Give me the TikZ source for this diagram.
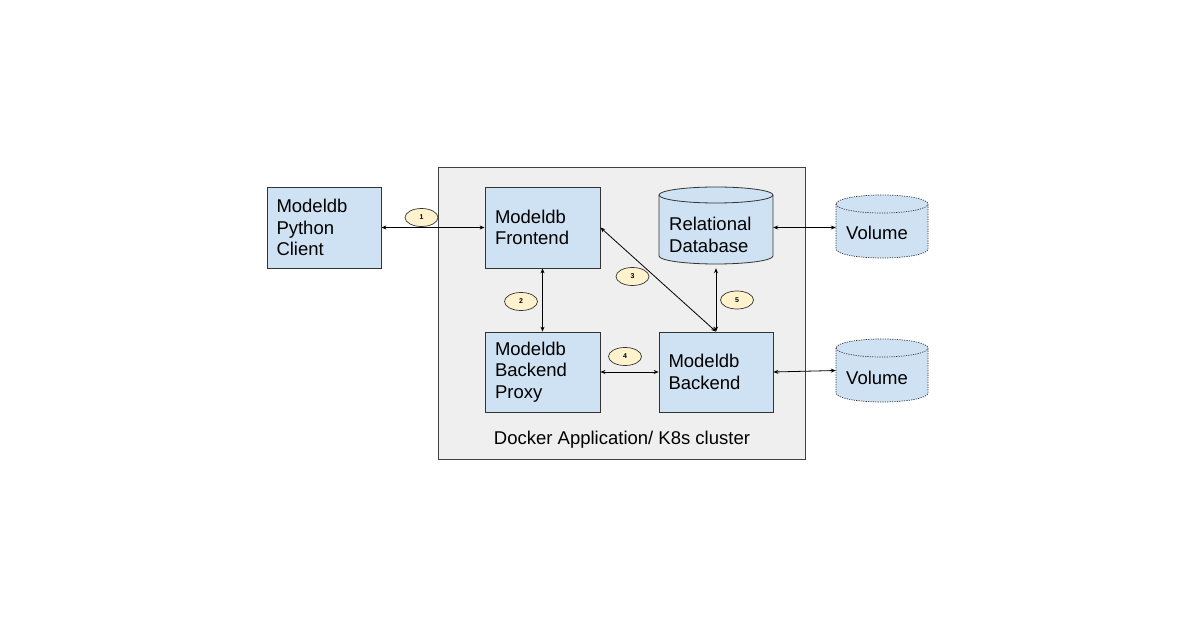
\documentclass[tikz,border=0pt]{standalone}
\usepackage{fontspec}
\setmainfont{Liberation Sans}
\usetikzlibrary{arrows.meta,shapes.geometric}
\definecolor{boxblue}{HTML}{CFE2F3}
\definecolor{clustergray}{HTML}{EFEFEF}
\definecolor{labelyellow}{HTML}{FFF2CC}
\definecolor{edgegray}{HTML}{333333}
\begin{document}
\begin{tikzpicture}[x=1pt,y=1pt,
  boxfont/.style={font=\fontsize{18.5pt}{21.5pt}\selectfont},
  box/.style={draw=edgegray, fill=boxblue, line width=0.8pt, inner sep=0pt,
    text width=95pt, align=left, boxfont},
  cylarea/.style={inner sep=0pt},
  cylbody/.style={draw=edgegray, fill=boxblue, line width=0.8pt},
  volbody/.style={draw=edgegray, fill=boxblue, line width=0.7pt, dash pattern=on 1.2pt off 1.2pt},
  txt/.style={boxfont, align=left, inner sep=0pt},
  num/.style={ellipse, draw=edgegray, fill=labelyellow, line width=0.7pt,
    minimum width=33pt, minimum height=18pt, inner sep=0pt,
    font=\fontsize{7pt}{8pt}\selectfont\bfseries},
  link/.style={draw=black, line width=0.8pt,
    {Stealth[length=5pt,width=4pt]}-{Stealth[length=5pt,width=4pt]}}
]
\useasboundingbox[fill=white] (0,0) rectangle (1200,630);

% cluster
\node[draw=black!75, fill=clustergray, line width=0.8pt, minimum width=367pt, minimum height=292pt, inner sep=0pt]
  (cluster) at (621.5,317) {};
\node[txt, anchor=center] (clusterlabel) at (622,190) {Docker Application/ K8s cluster};

% boxes
\node[box, minimum width=114pt, minimum height=81pt] (client) at (324,402.5) {Modeldb\\Python\\Client};
\node[box, minimum width=115pt, minimum height=81pt] (frontend) at (542.5,402.5) {Modeldb\\Frontend};
\node[box, minimum width=115pt, minimum height=80pt] (proxy) at (542.5,258) {Modeldb\\Backend\\Proxy};
\node[box, minimum width=114pt, minimum height=80pt] (backend) at (716,258) {Modeldb\\Backend};

% relational database cylinder
\path[cylbody] (659,435) -- (659,374) arc[start angle=180,end angle=360,x radius=57,y radius=8]
  -- (773,435) arc[start angle=0,end angle=180,x radius=57,y radius=8] -- cycle;
\draw[draw=edgegray, line width=0.8pt] (659,435) arc[start angle=180,end angle=360,x radius=57,y radius=8];
\node[cylarea, minimum width=114pt, minimum height=81pt] (db) at (716,402.5) {};
\node[txt, anchor=west] (dbtext) at (669,395) {Relational\\Database};

% volume 1
\path[volbody] (836,426) -- (836,381) arc[start angle=180,end angle=360,x radius=46,y radius=9]
  -- (928,426) arc[start angle=0,end angle=180,x radius=46,y radius=9] -- cycle;
\draw[draw=edgegray, line width=0.7pt, dash pattern=on 1.2pt off 1.2pt] (836,426) arc[start angle=180,end angle=360,x radius=46,y radius=9];
\node[cylarea, minimum width=92pt, minimum height=63pt] (vol1) at (882,403.5) {};
\node[txt, anchor=west] (vol1text) at (846,397) {Volume};

% volume 2
\path[volbody] (836,282) -- (836,237) arc[start angle=180,end angle=360,x radius=46,y radius=9]
  -- (928,282) arc[start angle=0,end angle=180,x radius=46,y radius=9] -- cycle;
\draw[draw=edgegray, line width=0.7pt, dash pattern=on 1.2pt off 1.2pt] (836,282) arc[start angle=180,end angle=360,x radius=46,y radius=9];
\node[cylarea, minimum width=92pt, minimum height=63pt] (vol2) at (882,259.5) {};
\node[txt, anchor=west] (vol2text) at (846,252) {Volume};

% connectors
\draw[link] (client.east) -- (frontend.west);
\draw[link] (frontend.south) -- (proxy.north);
\draw[link] (frontend.east) -- (backend.north);
\draw[link] (proxy.east) -- (backend.west);
\draw[link] (backend.north) -- (db.south);
\draw[link] (db.east) -- (vol1.west |- db.east);
\draw[link] (backend.east) -- (vol2.west);

% number labels
\node[num] (n1) at (421.5,412.5) {1};
\node[num] (n2) at (521,328.5) {2};
\node[num] (n3) at (632.5,353.5) {3};
\node[num] (n4) at (625,273.5) {4};
\node[num] (n5) at (737,330) {5};
\end{tikzpicture}
\end{document}
